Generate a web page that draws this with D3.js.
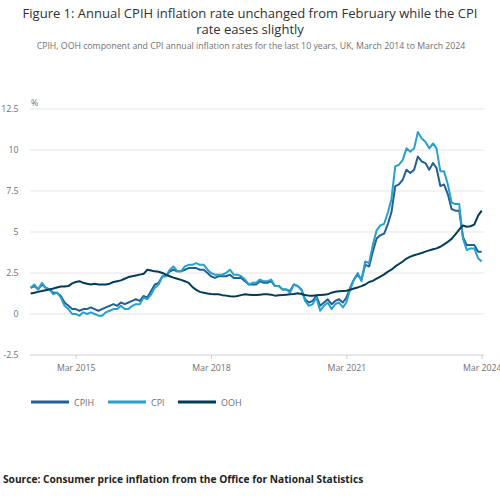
<!DOCTYPE html>
<html>
<head>
<meta charset="utf-8">
<script src="https://cdn.jsdelivr.net/npm/d3@7"></script>
<style>
  body { margin: 0; background: #fff; }
  svg { font-family: "Open Sans", sans-serif; }
</style>
</head>
<body>
<svg width="500" height="498"></svg>
<script>
// monthly annual rates, Mar 2014 .. Mar 2024
var cpih = [
    1.6, 1.7, 1.5, 1.8, 1.6, 1.5, 1.3, 1.3, 1.1, 0.7,
    0.5, 0.3, 0.3, 0.2, 0.3, 0.3, 0.4, 0.3, 0.2, 0.3, 0.4, 0.5,
    0.6, 0.5, 0.7, 0.6, 0.7, 0.8, 0.9, 0.8, 1.1, 1.0, 1.4, 1.8,
    1.9, 2.3, 2.3, 2.6, 2.7, 2.6, 2.6, 2.7, 2.8, 2.8, 2.8, 2.7,
    2.7, 2.5, 2.3, 2.2, 2.3, 2.3, 2.3, 2.4, 2.2, 2.2, 2.2, 2.0,
    1.8, 1.8, 1.8, 2.0, 1.9, 1.9, 2.0, 1.7, 1.7, 1.5, 1.5, 1.4,
    1.8, 1.7, 1.5, 0.9, 0.7, 0.8, 1.1, 0.5, 0.7, 0.9, 0.6, 0.8,
    0.9, 0.7, 1.0, 1.6, 2.1, 2.4, 2.1, 3.0, 2.9, 3.8, 4.6, 4.8,
    4.9, 5.5, 6.2, 7.8, 7.9, 8.2, 8.8, 8.6, 8.8, 9.6, 9.3, 9.2,
    8.8, 9.2, 8.9, 7.8, 7.9, 7.3, 6.4, 6.3, 6.3, 4.7, 4.2, 4.2,
    4.2, 3.8, 3.8
];
var cpi = [
    1.6, 1.8, 1.5, 1.9, 1.6, 1.5, 1.2, 1.3, 1.0, 0.5,
    0.3, 0.0, 0.0, -0.1, 0.1, 0.0, 0.1, 0.0, -0.1, -0.1, 0.1, 0.2,
    0.3, 0.3, 0.5, 0.3, 0.3, 0.5, 0.6, 0.6, 1.0, 0.9, 1.2, 1.6,
    1.8, 2.3, 2.3, 2.7, 2.9, 2.6, 2.6, 2.9, 3.0, 3.0, 3.1, 3.0,
    3.0, 2.7, 2.5, 2.4, 2.4, 2.4, 2.5, 2.7, 2.4, 2.4, 2.3, 2.1,
    1.8, 1.9, 1.9, 2.1, 2.0, 2.0, 2.1, 1.7, 1.7, 1.5, 1.5, 1.3,
    1.8, 1.7, 1.5, 0.8, 0.5, 0.6, 1.0, 0.2, 0.5, 0.7, 0.3, 0.6,
    0.7, 0.4, 0.7, 1.5, 2.1, 2.5, 2.0, 3.2, 3.1, 4.2, 5.1, 5.4,
    5.5, 6.2, 7.0, 9.0, 9.1, 9.4, 10.1, 9.9, 10.1, 11.1, 10.7, 10.5,
    10.1, 10.4, 10.1, 8.7, 8.7, 7.9, 6.8, 6.7, 6.7, 4.6, 3.9, 4.0,
    4.0, 3.4, 3.2
];
var ooh = [
    1.25, 1.3, 1.35, 1.4, 1.45, 1.5, 1.55, 1.62, 1.68, 1.68,
    1.7, 1.87, 1.95, 2.0, 1.9, 1.85, 1.8, 1.85, 1.8, 1.8, 1.8, 1.85,
    1.95, 2.0, 2.05, 2.15, 2.25, 2.3, 2.35, 2.4, 2.45, 2.7, 2.65, 2.6,
    2.58, 2.5, 2.4, 2.3, 2.22, 2.15, 2.08, 2.0, 1.9, 1.65, 1.47, 1.35,
    1.3, 1.25, 1.22, 1.2, 1.2, 1.15, 1.12, 1.08, 1.06, 1.1, 1.15, 1.2,
    1.18, 1.16, 1.16, 1.18, 1.2, 1.2, 1.18, 1.12, 1.14, 1.16, 1.18, 1.2,
    1.22, 1.26, 1.22, 1.16, 1.12, 1.12, 1.14, 1.16, 1.18, 1.2, 1.3, 1.36,
    1.38, 1.4, 1.42, 1.48, 1.55, 1.62, 1.7, 1.8, 1.95, 2.02, 2.15, 2.28,
    2.42, 2.58, 2.7, 2.9, 3.05, 3.2, 3.38, 3.5, 3.58, 3.65, 3.72, 3.8,
    3.88, 3.95, 4.0, 4.1, 4.25, 4.4, 4.58, 4.85, 5.15, 5.4, 5.32, 5.35,
    5.45, 6.0, 6.3
];
var yTicks = [-2.5, 0, 2.5, 5, 7.5, 10, 12.5];
var xTickLabels = ["Mar 2015", "Mar 2018", "Mar 2021", "Mar 2024"];
var seriesNames = ["CPIH", "CPI", "OOH"];
var seriesColors = ["#206095", "#27a0cc", "#003c57"];

var months = d3.timeMonth.range(new Date(2014, 2, 1), new Date(2024, 3, 1));
var parseTick = d3.timeParse("%b %Y");

var svg = d3.select("svg");

// titles
svg.append("text").attr("x", 250).attr("y", 18).attr("text-anchor", "middle")
    .style("font-size", "13px").style("fill", "#323132")
    .text("Figure 1: Annual CPIH inflation rate unchanged from February while the CPI");
svg.append("text").attr("x", 250).attr("y", 34).attr("text-anchor", "middle")
    .style("font-size", "13px").style("fill", "#323132")
    .text("rate eases slightly");
svg.append("text").attr("x", 251).attr("y", 49).attr("text-anchor", "middle")
    .style("font-size", "8.75px").style("fill", "#707070")
    .text("CPIH, OOH component and CPI annual inflation rates for the last 10 years, UK, March 2014 to March 2024");

var x = d3.scaleTime()
    .domain([months[0], months[months.length - 1]])
    .range([30.6, 481.7]);
var y = d3.scaleLinear().domain([-2.5, 12.5]).range([355, 109]);

// gridlines + y labels
var g = svg.append("g");
g.selectAll("line.grid").data(yTicks).enter().append("line")
    .attr("class", "grid")
    .attr("x1", 30).attr("x2", 484)
    .attr("y1", function (d) { return y(d); }).attr("y2", function (d) { return y(d); })
    .style("stroke", function (d) { return d == -2.5 ? "#ccd0db" : "#e5e5e5"; })
    .style("stroke-width", 1);

var yAxis = d3.axisLeft(y).tickValues(yTicks).tickSize(0).tickPadding(0)
    .tickFormat(function (d) { return d; });
svg.append("g").attr("transform", "translate(18.5,0)").call(yAxis)
    .call(function (a) { a.select(".domain").remove(); })
    .selectAll("text").style("font-size", "8.75px").style("fill", "#707070")
    .style("font-family", "Open Sans");

svg.append("text").attr("x", 31).attr("y", 106)
    .style("font-size", "8.75px").style("fill", "#707070").text("%");

// x axis
var xAxis = d3.axisBottom(x)
    .tickValues(xTickLabels.map(function (s) { return parseTick(s); }))
    .tickSize(4).tickPadding(6)
    .tickFormat(d3.timeFormat("%b %Y"));
var xa = svg.append("g").attr("transform", "translate(0,355)").call(xAxis);
xa.select(".domain").remove();
xa.selectAll("line").style("stroke", "#ccd0db");
xa.selectAll("text").style("font-size", "8.75px").style("fill", "#707070")
    .style("font-family", "Open Sans");

// lines
var line = d3.line()
    .x(function (d, i) { return x(months[i]); })
    .y(function (d) { return y(d); });

var allSeries = [cpih, cpi, ooh];
svg.selectAll("path.series").data(allSeries).enter().append("path")
    .attr("class", "series")
    .attr("d", line)
    .style("fill", "none")
    .style("stroke", function (d, i) { return seriesColors[i]; })
    .style("stroke-width", 2)
    .style("stroke-linejoin", "round");

// legend
var legendX = [31, 108, 178];
var lg = svg.selectAll("g.legend").data(seriesNames).enter().append("g")
    .attr("class", "legend")
    .attr("transform", function (d, i) { return "translate(" + legendX[i] + ",402)"; });
lg.append("line").attr("x1", 0).attr("x2", 38).attr("y1", 0).attr("y2", 0)
    .style("stroke", function (d, i) { return seriesColors[i]; })
    .style("stroke-width", 3);
lg.append("text").attr("x", 43).attr("y", 3.5)
    .style("font-size", "9px").style("fill", "#707070")
    .text(function (d) { return d; });

// source
svg.append("text").attr("x", 3).attr("y", 483)
    .style("font-size", "10.2px").style("font-weight", "bold").style("fill", "#222")
    .text("Source: Consumer price inflation from the Office for National Statistics");
</script>
</body>
</html>
